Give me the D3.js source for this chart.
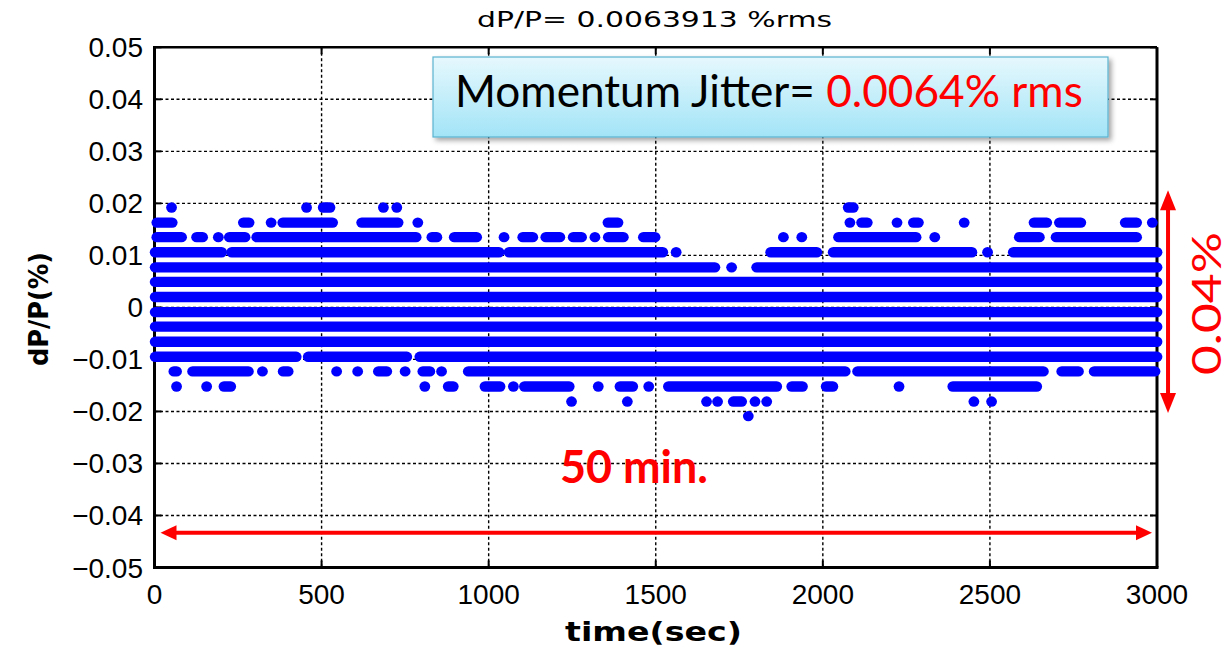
<!DOCTYPE html>
<html>
<head>
<meta charset="utf-8">
<script src="https://cdn.jsdelivr.net/npm/d3@7"></script>
<style>
  body { margin: 0; background: #fff; }
  svg { display: block; }
</style>
</head>
<body>
<svg id="chart" width="1229" height="648"></svg>
<script>
/*** DATA ***/
//quantised dP/P levels (%), top to bottom
var levels = [0.0192, 0.0163, 0.0135, 0.0106, 0.0077, 0.0049, 0.0020, -0.0009,
              -0.0037, -0.0066, -0.0095, -0.0123, -0.0152, -0.0181, -0.0209];

//runs of consecutive samples [t start, t end] (sec) on each level
var runs0  = [[51,51],[455,455],[505,525],[685,685],[725,725],[2076,2091]];
var runs1  = [[7,53],[266,283],[349,349],[384,533],[620,729],[788,788],[1357,1387],[2081,2081],
              [2116,2133],[2222,2222],[2271,2286],[2423,2423],[2632,2670],[2708,2772],[2905,2939],[2986,2986]];
var runs2  = [[7,81],[126,144],[191,191],[224,271],[306,783],[830,845],[897,964],[1046,1046],
              [1102,1132],[1171,1213],[1253,1278],[1318,1318],[1358,1403],[1463,1498],[1882,1882],
              [1937,1937],[2047,2279],[2335,2335],[2588,2648],[2698,2939]];
var runs3  = [[2,201],[231,1031],[1061,1521],[1561,1561],[1844,1982],[2031,2446],[2493,2493],[2570,3000]];
var runs4  = [[2,1677],[1727,1727],[1802,3000]];
var runs5  = [[2,3000]];
var runs6  = [[2,3000]];
var runs7  = [[2,3000]];
var runs8  = [[2,3000]];
var runs9  = [[2,3000]];
var runs10 = [[2,424],[460,755],[794,3000]];
var runs11 = [[58,66],[114,281],[323,323],[385,400],[545,545],[608,608],[670,695],[750,750],
              [803,824],[859,859],[939,2067],[2104,2660],[2715,2765],[2812,2994]];
var runs12 = [[66,66],[156,156],[208,228],[809,809],[879,894],[989,1034],[1074,1074],[1107,1241],
              [1328,1328],[1393,1431],[1479,1479],[1538,1862],[1907,1939],[2010,2030],[2228,2228],[2389,2640]];
var runs13 = [[1248,1248],[1415,1415],[1652,1652],[1685,1685],[1732,1757],[1797,1797],[1832,1832],
              [2452,2452],[2505,2505]];
var runs14 = [[1777,1777]];

var runsByLevel = [runs0, runs1, runs2, runs3, runs4, runs5, runs6, runs7,
                   runs8, runs9, runs10, runs11, runs12, runs13, runs14];

var xTicks = [0, 500, 1000, 1500, 2000, 2500, 3000];
var yTicks = [0.05, 0.04, 0.03, 0.02, 0.01, 0, -0.01, -0.02, -0.03, -0.04, -0.05];

//annotations
var durationSpan = [18, 2985];       //sec, red horizontal arrow
var durationLevel = -0.0433;
var jitterSpan = [0.0225, -0.0203];  //%, red vertical arrow
var jitterTime = 3033;

var titleText = 'dP/P= 0.0063913 %rms';
var boxLabel = 'Momentum Jitter= ';
var boxValue = '0.0064% rms';


/*** SCALES ***/
var x = d3.scaleLinear().domain([0, 3000]).range([154.5, 1157]);
var y = d3.scaleLinear().domain([-0.05, 0.05]).range([567.5, 47.3]);

var svg = d3.select('#chart');
var red = '#ff0000';
var blue = '#0000ff';

function fitSize(sel, width) {
  var fs = parseFloat(sel.attr('font-size'));
  var w = sel.node().getComputedTextLength();
  sel.attr('font-size', fs * width / w);
}

var defs = svg.append('defs');
var grad = defs.append('linearGradient').attr('id', 'boxFill')
  .attr('x1', 0).attr('y1', 0).attr('x2', 0).attr('y2', 1);
grad.append('stop').attr('offset', '0%').attr('stop-color', '#e6f8fd');
grad.append('stop').attr('offset', '100%').attr('stop-color', '#a2e4f7');
var shadow = defs.append('filter').attr('id', 'shadow')
  .attr('x', '-5%').attr('y', '-10%').attr('width', '115%').attr('height', '140%');
shadow.append('feDropShadow').attr('dx', 3).attr('dy', 3).attr('stdDeviation', 2.5)
  .attr('flood-color', '#000').attr('flood-opacity', 0.35);


/*** GRID ***/
var grid = svg.append('g').attr('class', 'grid')
  .attr('stroke', '#000').attr('stroke-width', 1.4).attr('stroke-dasharray', '3,2.5');
grid.selectAll('.gx').data(xTicks.slice(1, -1)).enter().append('line')
  .attr('x1', function(d) { return x(d); }).attr('x2', function(d) { return x(d); })
  .attr('y1', y(0.05)).attr('y2', y(-0.05));
grid.selectAll('.gy').data(yTicks.slice(1, -1)).enter().append('line')
  .attr('x1', x(0)).attr('x2', x(3000))
  .attr('y1', function(d) { return y(d); }).attr('y2', function(d) { return y(d); });


/*** FRAME + TICKS ***/
var frame = svg.append('g').attr('stroke', '#000');
frame.append('line').attr('x1', x(0)).attr('x2', x(3000)).attr('y1', y(0.05)).attr('y2', y(0.05)).attr('stroke-width', 2.5);
frame.append('line').attr('x1', x(3000)).attr('x2', x(3000)).attr('y1', y(0.05)).attr('y2', y(-0.05)).attr('stroke-width', 3);
frame.append('line').attr('x1', x(0)).attr('x2', x(0)).attr('y1', y(0.05) - 1.2).attr('y2', y(-0.05) + 1.5).attr('stroke-width', 3);
frame.append('line').attr('x1', x(0) - 1.5).attr('x2', x(3000) + 1.5).attr('y1', y(-0.05)).attr('y2', y(-0.05)).attr('stroke-width', 3);

var tickLen = 7;
xTicks.forEach(function(d) {
  frame.append('line').attr('x1', x(d)).attr('x2', x(d)).attr('y1', y(-0.05)).attr('y2', y(-0.05) - tickLen).attr('stroke-width', 2);
  frame.append('line').attr('x1', x(d)).attr('x2', x(d)).attr('y1', y(0.05)).attr('y2', y(0.05) + tickLen).attr('stroke-width', 2);
});
yTicks.forEach(function(d) {
  frame.append('line').attr('x1', x(0)).attr('x2', x(0) + tickLen).attr('y1', y(d)).attr('y2', y(d)).attr('stroke-width', 2);
  frame.append('line').attr('x1', x(3000)).attr('x2', x(3000) - tickLen).attr('y1', y(d)).attr('y2', y(d)).attr('stroke-width', 2);
});


/*** SAMPLES ***/
var rx = 5.4, ry = 5.2;
var dots = svg.append('g').attr('class', 'samples').attr('fill', blue);
levels.forEach(function(lvl, i) {
  dots.selectAll(null).data(runsByLevel[i]).enter().append('rect')
    .attr('x', function(d) { return x(d[0]) - rx; })
    .attr('width', function(d) { return x(d[1]) - x(d[0]) + 2 * rx; })
    .attr('y', y(lvl) - ry)
    .attr('height', 2 * ry)
    .attr('rx', rx).attr('ry', ry);
});


/*** AXIS LABELS ***/
var fontAxis = '"Liberation Sans", Arial, sans-serif';
svg.append('g').selectAll('text').data(yTicks).enter().append('text')
  .attr('x', 143).attr('y', function(d) { return y(d) + 10; })
  .attr('text-anchor', 'end')
  .attr('font-family', fontAxis).attr('font-size', 28)
  .text(function(d) { return d === 0 ? '0' : d3.format('.2f')(d); });

svg.append('g').selectAll('text').data(xTicks).enter().append('text')
  .attr('x', function(d) { return x(d); }).attr('y', 604)
  .attr('text-anchor', 'middle')
  .attr('font-family', fontAxis).attr('font-size', 28)
  .text(function(d) { return d; });

var fontGothic = '"DejaVu Sans", sans-serif';
svg.append('text')
  .attr('x', 477).attr('y', 27)
  .attr('font-family', fontGothic).attr('font-size', 21)
  .attr('textLength', 355).attr('lengthAdjust', 'spacingAndGlyphs')
  .text(titleText);

svg.append('text')
  .attr('x', 565).attr('y', 641)
  .attr('font-family', fontGothic).attr('font-size', 26).attr('font-weight', 'bold')
  .attr('textLength', 177).attr('lengthAdjust', 'spacingAndGlyphs')
  .text('time(sec)');

svg.append('text')
  .attr('transform', 'translate(48,366) rotate(-90)')
  .attr('font-family', fontGothic).attr('font-size', 26).attr('font-weight', 'bold')
  .attr('textLength', 114).attr('lengthAdjust', 'spacingAndGlyphs')
  .text('dP/P(%)');


/*** JITTER BOX ***/
svg.append('rect')
  .attr('x', 433).attr('y', 57).attr('width', 675).attr('height', 80)
  .attr('fill', 'url(#boxFill)').attr('stroke', '#5ab3cf').attr('stroke-width', 1.2)
  .attr('filter', 'url(#shadow)');
var boxText = svg.append('text')
  .attr('x', 455).attr('y', 107)
  .attr('font-family', 'Lato, "Open Sans", sans-serif').attr('font-size', 40);
boxText.append('tspan').attr('fill', '#000').text(boxLabel);
boxText.append('tspan').attr('fill', red).text(boxValue);
fitSize(boxText, 628);


/*** ANNOTATION ARROWS ***/
var ann = svg.append('g').attr('class', 'annotations');
var hy = y(durationLevel);
var hx0 = x(durationSpan[0]), hx1 = x(durationSpan[1]);
ann.append('line').attr('x1', hx0 + 12).attr('x2', hx1 - 12).attr('y1', hy).attr('y2', hy)
  .attr('stroke', red).attr('stroke-width', 4);
ann.append('path').attr('fill', red)
  .attr('d', 'M' + hx0 + ',' + hy + 'l16,-7.5v15z');
ann.append('path').attr('fill', red)
  .attr('d', 'M' + hx1 + ',' + hy + 'l-16,-7.5v15z');

var vx = x(jitterTime);
var vy0 = y(jitterSpan[0]), vy1 = y(jitterSpan[1]);
ann.append('line').attr('x1', vx).attr('x2', vx).attr('y1', vy0 + 15).attr('y2', vy1 - 15)
  .attr('stroke', red).attr('stroke-width', 4);
ann.append('path').attr('fill', red)
  .attr('d', 'M' + vx + ',' + vy0 + 'l-8,20h16z');
ann.append('path').attr('fill', red)
  .attr('d', 'M' + vx + ',' + vy1 + 'l-8,-20h16z');

var minText = ann.append('text')
  .attr('x', 560).attr('y', 483)
  .attr('font-family', 'Lato, "Open Sans", sans-serif').attr('font-size', 40).attr('font-weight', 'bold')
  .attr('fill', red)
  .text('50 min.');
fitSize(minText, 148);

ann.append('text')
  .attr('transform', 'translate(1221,375) rotate(-90)')
  .attr('font-family', 'Lato, "Open Sans", sans-serif').attr('font-size', 40)
  .attr('textLength', 143).attr('lengthAdjust', 'spacingAndGlyphs')
  .attr('fill', red)
  .text('0.04%');
</script>
</body>
</html>
